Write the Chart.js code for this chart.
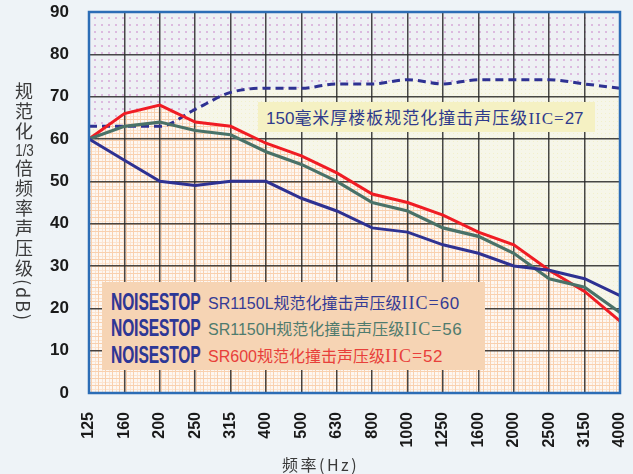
<!DOCTYPE html>
<html>
<head>
<meta charset="utf-8">
<script src="https://cdn.jsdelivr.net/npm/chart.js@4.4.1/dist/chart.umd.min.js"></script>
<style>
  html, body { margin:0; padding:0; background:#eef3f7; }
  #wrap { position:relative; width:633px; height:474px; overflow:hidden; background:#eef3f7; }
  #c { position:absolute; left:0; top:0; }
  .cjk { font-family:"Noto Sans CJK SC","Noto Sans",sans-serif; }
  .serif { font-family:"Liberation Serif","DejaVu Serif",serif; }
  .sans { font-family:"Liberation Sans","Noto Sans",sans-serif; }
  #ytitle { position:absolute; left:13px; top:82px; writing-mode:vertical-rl; font-family:"Noto Sans CJK SC",sans-serif; font-size:18px; line-height:22px; letter-spacing:2px; color:#3a3a3a; }
  #ytitle .tc { text-combine-upright:all; font-family:"Liberation Sans",sans-serif; font-size:17px; letter-spacing:-1px; }
  #xtitle { position:absolute; left:282px; top:452px; font-family:"Noto Sans CJK SC",sans-serif; font-size:16px; letter-spacing:2.5px; color:#3a3a3a; white-space:nowrap; }
  #note { position:absolute; left:258px; top:102px; width:337px; height:30px; background:#f5f1c3; color:#2f3a8c; font-size:17px; line-height:30px; white-space:nowrap; box-sizing:border-box; padding-left:8px; }
  #legend { position:absolute; left:102px; top:282px; width:383px; height:88px; background:#f6d4b4; }
  .row { position:absolute; left:0; height:26px; line-height:26px; white-space:nowrap; }
  .logo { position:absolute; display:inline-block; left:9px; top:0; font-family:"Liberation Sans",sans-serif; font-weight:bold; font-size:23px; letter-spacing:0px; color:#2a3898; text-shadow:1px 0 0 rgba(220,60,90,0.35); transform-origin:0 50%; transform:scale(0.67,1.05); }
  .ltxt { position:absolute; left:106px; top:0; font-size:16px; }
  .iic { font-family:"Liberation Serif","DejaVu Serif",serif; letter-spacing:1px; font-size:18px; }
  .num { font-family:"Liberation Sans",sans-serif; font-size:17px; letter-spacing:0.5px; }
</style>
</head>
<body>
<div id="wrap">
  <canvas id="c" width="633" height="474"></canvas>
  <div id="ytitle">规范化<span class="tc">1/3</span>倍频率声压级(dB)</div>
  <div id="xtitle">频率(Hz)</div>
  <div id="note"><span class="sans">150</span><span class="cjk" style="letter-spacing:1px">毫米厚楼板规范化撞击声压级</span><span class="serif" style="letter-spacing:1px">IIC=</span><span class="sans">27</span></div>
  <div id="legend">
    <div class="row" style="top:7px"><span class="logo">NOISESTOP</span><span class="ltxt" style="color:#353b95"><span class="sans">SR1150L</span><span class="cjk">规范化撞击声压级</span><span class="iic">IIC=</span><span class="num">60</span></span></div>
    <div class="row" style="top:33px"><span class="logo">NOISESTOP</span><span class="ltxt" style="color:#4f7b6e"><span class="sans">SR1150H</span><span class="cjk">规范化撞击声压级</span><span class="iic">IIC=</span><span class="num">56</span></span></div>
    <div class="row" style="top:60px"><span class="logo">NOISESTOP</span><span class="ltxt" style="color:#e8403a"><span class="sans">SR600</span><span class="cjk">规范化撞击声压级</span><span class="iic">IIC=</span><span class="num">52</span></span></div>
  </div>
</div>
<script>
// ---- data ----
const frequencies = ["125","160","200","250","315","400","500","630","800","1000","1250","1600","2000","2500","3150","4000"];
const yTicks = [0,10,20,30,40,50,60,70,80,90];
const sr1150L = [60,55,50,49,50,50,46,43,39,38,35,33,30,29,27,23];
const sr1150H = [60,63,64,62,61,57,54,50,45,43,39,37,33,27,25,19];
const sr600   = [60,66,68,64,63,59,56,52,47,45,42,38,35,29,24,17];
const slab150 = [63,63,63,67,71,72,72,73,73,74,73,74,74,74,73,72];

// ---- patterns ----
function makePattern(size, draw) {
  const cv = document.createElement('canvas');
  cv.width = size; cv.height = size;
  const g = cv.getContext('2d');
  draw(g, size);
  return document.getElementById('c').getContext('2d').createPattern(cv, 'repeat');
}
const dotsPattern = makePattern(7, (g, s) => {
  g.fillStyle = '#eef0f4'; g.fillRect(0,0,s,s);
  g.fillStyle = '#dcbadf'; g.fillRect(3,3,2,2);
});
const creamPattern = makePattern(4, (g, s) => {
  g.fillStyle = '#f6f6e9'; g.fillRect(0,0,s,s);
  g.fillStyle = '#f2f0cc'; g.fillRect(1,1,1,1);
});
const orangePattern = makePattern(7, (g, s) => {
  g.fillStyle = '#fdf7f2'; g.fillRect(0,0,s,s);
  g.fillStyle = '#fce4d0'; g.fillRect(4,0,1,s); g.fillRect(0,4,s,1);
  g.fillStyle = '#f9d0ae'; g.fillRect(0,0,1,s); g.fillRect(0,0,s,1);
});

const bgPlugin = {
  id: 'plotBg',
  beforeDraw(chart) {
    const a = chart.chartArea, ctx = chart.ctx;
    ctx.save(); ctx.fillStyle = dotsPattern;
    ctx.fillRect(a.left, a.top, a.right - a.left, a.bottom - a.top);
    ctx.restore();
  },
  afterDraw(chart) {
    const a = chart.chartArea, ctx = chart.ctx;
    ctx.save(); ctx.strokeStyle = '#2c6db6'; ctx.lineWidth = 2.5;
    ctx.strokeRect(a.left, a.top, a.right - a.left, a.bottom - a.top);
    ctx.restore();
  }
};
const filler = Chart.registry.getPlugin('filler');
Chart.unregister(filler);
Chart.register(bgPlugin);
Chart.register(filler);

new Chart(document.getElementById('c'), {
  type: 'line',
  data: {
    labels: frequencies,
    datasets: [
      { label: 'SR1150L', data: sr1150L, borderColor: '#2e3192', borderWidth: 3, pointRadius: 0, fill: false, tension: 0 },
      { label: 'SR1150H', data: sr1150H, borderColor: '#4a7268', borderWidth: 3.2, pointRadius: 0, fill: false, tension: 0 },
      { label: 'SR600', data: sr600, borderColor: '#f01c24', borderWidth: 3, pointRadius: 0, fill: 'origin', backgroundColor: orangePattern, tension: 0 },
      { label: '150mm', data: slab150, borderColor: '#2e3192', borderWidth: 3, borderDash: [8,5], pointRadius: 0, fill: 'origin', backgroundColor: creamPattern, cubicInterpolationMode: 'monotone' }
    ]
  },
  options: {
    responsive: false,
    animation: false,
    devicePixelRatio: 1,
    layout: { padding: { left: 0, right: 13, top: 12, bottom: 0 }, autoPadding: false },
    plugins: { legend: { display: false }, tooltip: { enabled: false }, filler: { drawTime: 'beforeDraw' } },
    scales: {
      x: {
        type: 'category', offset: false,
        grid: { color: 'rgba(40,40,40,0.85)', lineWidth: 1.5, drawTicks: false },
        border: { display: false },
        ticks: { color: '#1a1a1a', font: { family: 'Liberation Sans', size: 16, weight: 'bold' }, minRotation: 90, maxRotation: 90, padding: 19, autoSkip: false },
        afterFit(s) { s.height = 81; s.paddingLeft = 0; s.paddingRight = 0; }
      },
      y: {
        min: 0, max: 90,
        afterBuildTicks(s) { s.ticks = yTicks.map(v => ({ value: v })); },
        grid: { color: 'rgba(40,40,40,0.85)', lineWidth: 1.5, drawTicks: false },
        border: { display: false },
        ticks: { color: '#1a1a1a', font: { family: 'Liberation Sans', size: 17, weight: 'bold' }, padding: 20 },
        afterFit(s) { s.width = 89; s.paddingTop = 0; s.paddingBottom = 0; }
      }
    }
  }
});
</script>
</body>
</html>
